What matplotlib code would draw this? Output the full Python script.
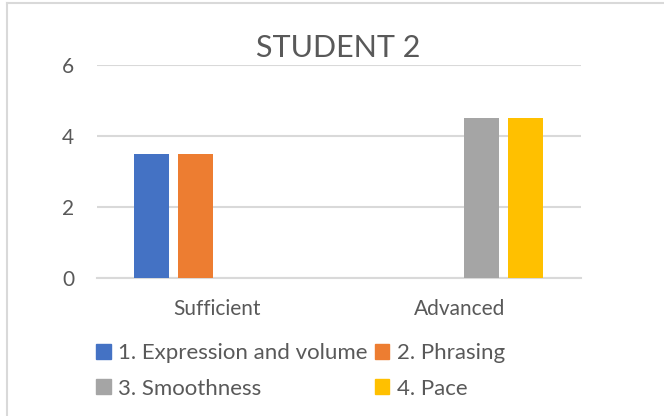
import matplotlib
matplotlib.use("Agg")
import matplotlib.pyplot as plt
from matplotlib.lines import Line2D
from matplotlib.patches import Patch
import numpy as np

categories = ["Sufficient", "Advanced"]
series_names = ["1. Expression and volume", "2. Phrasing", "3. Smoothness", "4. Pace"]
series_values = [
    [3.5, 0],
    [3.5, 0],
    [0, 4.5],
    [0, 4.5],
]
colors = ["#4472C4", "#ED7D31", "#A5A5A5", "#FFC000"]
yticks = [0, 2, 4, 6]
title = "STUDENT 2"

plt.rcParams['font.family'] = ['Lato', 'DejaVu Sans']
W, H = 664, 416
fig = plt.figure(figsize=(W / 100, H / 100), dpi=100)
ax = fig.add_axes([96.5 / W, 1 - 277.7 / H, (580.5 - 96.5) / W, (277.7 - 65.3) / H])

x = np.arange(len(categories))
bw = 35 / 242
step = 44 / 242
offsets = (np.arange(4) - 1.5) * step
for i, (name, vals) in enumerate(zip(series_names, series_values)):
    ax.bar(x + offsets[i], vals, width=bw, color=colors[i], label=name, zorder=3)

ax.set_xlim(-0.5, 1.5)
ax.set_ylim(0, 6)
ax.set_yticks(yticks)
ax.set_xticks(x)
ax.set_xticklabels(categories)
ax.grid(axis='y', color='#D9D9D9', linewidth=1.5, zorder=0)
ax.tick_params(axis='both', length=0, colors='#595959', labelsize=15)
ax.tick_params(axis='y', pad=16)
ax.tick_params(axis='x', pad=15)
for s in ['top', 'right', 'left']:
    ax.spines[s].set_visible(False)
ax.spines['bottom'].set_color('#D9D9D9')
ax.spines['bottom'].set_linewidth(1.5)
ax.spines['bottom'].set_zorder(1)

fig.text(338 / W, 1 - 48 / H, title, ha='center', va='center', fontsize=22, color='#595959')

order = [0, 2, 1, 3]
handles = [Patch(color=colors[i]) for i in order]
labels = [series_names[i] for i in order]
leg = fig.legend(handles, labels, loc='upper left', bbox_to_anchor=(85 / W, 1 - 332 / H),
                 ncol=2, frameon=False, fontsize=16, labelcolor='#595959',
                 handlelength=0.65, handleheight=0.65, handletextpad=0.35,
                 columnspacing=0.3, labelspacing=0.7, borderpad=0)

fig.add_artist(Line2D([7 / W, 1], [1 - 3 / H, 1 - 3 / H], transform=fig.transFigure, color='#D9D9D9', linewidth=1.5))
fig.add_artist(Line2D([7 / W, 7 / W], [0, 1 - 3 / H], transform=fig.transFigure, color='#D9D9D9', linewidth=1.5))

fig.savefig("out.png", dpi=100)
